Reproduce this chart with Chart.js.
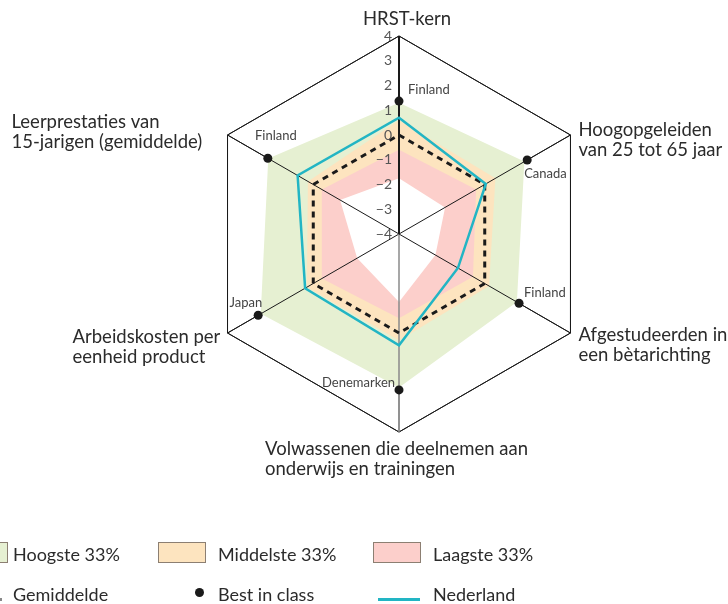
<!DOCTYPE html>
<html>
<head>
<meta charset="utf-8">
<script src="https://cdn.jsdelivr.net/npm/chart.js"></script>
<style>
  body { margin: 0; background: #fff; font-family: Lato, sans-serif; color: #2b2b2b; }
  #wrap { position: relative; width: 728px; height: 604px; overflow: hidden; }
  #chart { position: absolute; left: 0; top: 0; }
  .lg { position: absolute; font-size: 18px; line-height: 20px; white-space: nowrap; }
  .box { position: absolute; width: 48px; height: 21px; border: 1px solid #8c7f72; box-sizing: border-box; }
</style>
</head>
<body>
<div id="wrap">
  <canvas id="chart" width="728" height="604"></canvas>

  <div class="box" style="left:-40px; top:542px; background:#e6f0d2"></div>
  <div class="lg" style="left:13px; top:544px">Hoogste 33%</div>
  <div class="box" style="left:158px; top:542px; background:#fde4bf"></div>
  <div class="lg" style="left:218px; top:544px">Middelste 33%</div>
  <div class="box" style="left:373px; top:542px; background:#fccfcb"></div>
  <div class="lg" style="left:433px; top:544px">Laagste 33%</div>

  <div style="position:absolute; left:-46px; top:598px; width:48px; border-top:3px dashed #888"></div>
  <div class="lg" style="left:13px; top:584px">Gemiddelde</div>
  <div style="position:absolute; left:195px; top:588px; width:9px; height:9px; border-radius:50%; background:#1a1a1a"></div>
  <div class="lg" style="left:218px; top:584px">Best in class</div>
  <div style="position:absolute; left:378px; top:598px; width:42px; height:3px; background:#22b5c4"></div>
  <div class="lg" style="left:433px; top:584px">Nederland</div>
</div>

<script>
// assen (met de klok mee vanaf boven)
const axes = [
  ['HRST-kern'],
  ['Hoogopgeleiden', 'van 25 tot 65 jaar'],
  ['Afgestudeerden in', 'een bètarichting'],
  ['Volwassenen die deelnemen aan', 'onderwijs en trainingen'],
  ['Arbeidskosten per', 'eenheid product'],
  ['Leerprestaties van', '15-jarigen (gemiddelde)']
];
const tickValues = [4, 3, 2, 1, 0, -1, -2, -3, -4];

// grenzen van de banden
const hoogsteRand = [1.3, 1.85, 1.5, 2.2, 2.45, 2.1];
const middelsteRand = [0.6, 0.5, 0.2, 0.3, 0.3, 0.25];
const laagsteRand = [-0.6, -0.4, -0.55, -0.6, -0.4, -0.4];
const laagsteBinnen = [-1.75, -1.85, -2.3, -1.25, -2.05, -1.25];

const gemiddelde = [0, 0, 0, 0, 0, 0];
const nederland = [0.7, 0.05, -1.25, 0.5, 0.38, 0.73];
const bestInClass = [1.37, 1.98, 1.6, 2.3, 2.57, 2.12];
const bestLanden = ['Finland', 'Canada', 'Finland', 'Denemarken', 'Japan', 'Finland'];

const INK = '#2b2b2b';

// offsets of the labels relative to the scale / points
const titleLayout = [
  { dx: 8, dy: -17, align: 'center' },
  { dx: 8, dy: -5, align: 'left' },
  { dx: 8, dy: 2, align: 'left' },
  { dx: -134, dy: 17, align: 'left' },
  { dx: -155, dy: 4, align: 'left' },
  { dx: -216, dy: -13, align: 'left' }
];
const landLayout = [
  { dx: 9, dy: -11, align: 'left' },
  { dx: -3, dy: 14, align: 'left' },
  { dx: 5, dy: -10, align: 'left' },
  { dx: -4, dy: -7, align: 'right' },
  { dx: 4, dy: -12, align: 'right' },
  { dx: 8, dy: -22, align: 'center' }
];

const overlay = {
  id: 'overlay',
  afterDatasetDraw(chart, args) {
    // redraw the axes on top of the bands
    if (args.index === 3) chart.scales.r.drawGrid();
  },
  afterDatasetsDraw(chart) {
    const ctx = chart.ctx;
    const r = chart.scales.r;
    ctx.save();
    ctx.textBaseline = 'middle';

    ctx.font = '14px Lato, sans-serif';
    ctx.fillStyle = '#555';
    ctx.textAlign = 'right';
    tickValues.forEach(v => {
      const d = r.getDistanceFromCenterForValue(v);
      ctx.fillText(String(v).replace('-', '\u2212'), r.xCenter - 7, r.yCenter - d);
    });

    ctx.font = '13px Lato, sans-serif';
    ctx.fillStyle = '#444';
    const meta = chart.getDatasetMeta(0);
    meta.data.forEach((pt, i) => {
      const l = landLayout[i];
      ctx.textAlign = l.align;
      ctx.fillText(bestLanden[i], pt.x + l.dx, pt.y + l.dy);
    });

    ctx.font = '18.5px Lato, sans-serif';
    ctx.fillStyle = INK;
    axes.forEach((lines, i) => {
      const p = r.getPointPositionForValue(i, r.max);
      const l = titleLayout[i];
      ctx.textAlign = l.align;
      lines.forEach((t, k) => ctx.fillText(t, p.x + l.dx, p.y + l.dy + k * 20));
    });
    ctx.restore();
  }
};

function band(label, data, color, order) {
  return {
    label, data, order,
    fill: 'start',
    backgroundColor: color,
    borderColor: 'rgba(0,0,0,0)',
    borderWidth: 0,
    pointRadius: 0
  };
}

new Chart(document.getElementById('chart'), {
  type: 'radar',
  data: {
    labels: axes,
    datasets: [
      { label: 'Best in class', data: bestInClass, showLine: false, fill: false, pointRadius: 4.5,
        pointBackgroundColor: '#1a1a1a', pointBorderWidth: 0, order: 1 },
      { label: 'Nederland', data: nederland, borderColor: '#22b5c4', borderWidth: 2.5,
        pointRadius: 0, fill: false, order: 2 },
      { label: 'Gemiddelde', data: gemiddelde, borderColor: '#1a1a1a', borderWidth: 3,
        borderDash: [6, 5], pointRadius: 0, fill: false, order: 3 },
      band('binnen', laagsteBinnen, '#ffffff', 7),
      band('Laagste 33%', laagsteRand, '#fccfcb', 8),
      band('Middelste 33%', middelsteRand, '#fde4bf', 9),
      band('Hoogste 33%', hoogsteRand, '#e6f0d2', 10)
    ]
  },
  options: {
    responsive: false,
    animation: false,
    layout: { padding: { left: 201, top: 36, right: 131, bottom: 172 } },
    elements: { line: { tension: 0 } },
    plugins: { legend: { display: false }, tooltip: { enabled: false } },
    scales: {
      r: {
        min: -4,
        max: 4,
        ticks: { display: false, stepSize: 1 },
        pointLabels: { display: false },
        grid: {
          color: c => (c.tick && c.tick.value === 4 ? '#1a1a1a' : 'rgba(0,0,0,0)'),
          lineWidth: 1
        },
        angleLines: {
          color: c => (c.index === 3 ? '#8a8a8a' : '#1a1a1a'),
          lineWidth: c => (c.index === 0 ? 2 : c.index === 3 ? 1.5 : 1)
        }
      }
    }
  },
  plugins: [overlay]
});
</script>
</body>
</html>
